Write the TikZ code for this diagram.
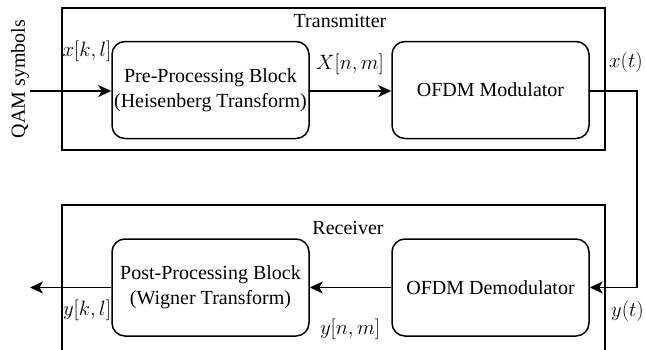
\documentclass[tikz,border=0pt]{standalone}
\usepackage{fontspec}
\setmainfont{Liberation Serif}
\usetikzlibrary{arrows.meta}
\begin{document}
\begin{tikzpicture}[x=1pt,y=-1pt,
  every node/.style={font=\fontsize{20}{25}\selectfont, inner sep=0pt},
  frame/.style={draw, line width=1.5pt},
  blockbox/.style={draw, line width=1.5pt, rounded corners=13pt, minimum width=197pt, minimum height=97pt, align=center},
  arr/.style={line width=1.5pt, -{Stealth[length=13pt,width=12pt,inset=3.5pt]}}
]
\useasboundingbox (0,0) rectangle (645,349);
% frames
\draw[frame] (62,8) rectangle (605,150);
\draw[frame] (62,205) rectangle (605,351);
\node (tx) at (340,21) {Transmitter};
\node (rx) at (348,228) {Receiver};
% blocks
\node[blockbox] (pre) at (210.5,90) {Pre-Processing Block\\(Heisenberg Transform)};
\node[blockbox] (mod) at (490.5,90) {OFDM Modulator};
\node[blockbox] (post) at (210.5,287.5) {Post-Processing Block\\(Wigner Transform)};
\node[blockbox] (demod) at (490.5,287.5) {OFDM Demodulator};
% input
\node[rotate=90] (qam) at (20,79) {QAM symbols};
\coordinate (in) at (30,91);
\coordinate (out) at (30,287.5);
\coordinate (c1) at (637,91);
\coordinate (c2) at (637,287.5);
\draw[arr] (in) -- (pre.west |- in);
\draw[arr] (pre.east |- in) -- (mod.west |- in);
\draw[arr] (mod.east |- c1) -- (c1) -- (c2) -- (demod.east);
\draw[arr] (demod.west) -- (post.east);
\draw[arr] (post.west) -- (out);
% labels
\node (lxkl) at (87,51) {$x[k,l]$};
\node (lXnm) at (350,64) {$X[n,m]$};
\node[anchor=west] (lxt) at (609,62) {$x(t)$};
\node (lykl) at (87,310) {$y[k,l]$};
\node (lynm) at (350,329) {$y[n,m]$};
\node[anchor=east] (lyt) at (644,311) {$y(t)$};
\end{tikzpicture}
\end{document}
